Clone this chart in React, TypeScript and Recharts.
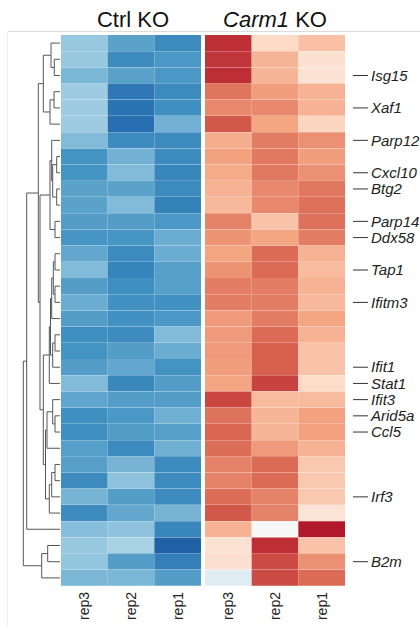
import React from "react";
import { BarChart, Bar, Cell, XAxis, YAxis, ComposedChart, Line } from "recharts";

const groups = ["Ctrl KO", "Carm1 KO"];
const samples = ["rep3", "rep2", "rep1", "rep3", "rep2", "rep1"];

const genes = [
  "", "", "Isg15", "", "Xaf1", "", "Parp12", "", "Cxcl10", "Btg2",
  "", "Parp14", "Ddx58", "", "Tap1", "", "Ifitm3", "", "", "",
  "Ifit1", "Stat1", "Ifit3", "Arid5a", "Ccl5", "", "", "", "Irf3", "",
  "", "", "B2m", "",
];

// row z-scores, one array per sample column
const ctrlRep3 = [-0.95, -0.95, -1.15, -0.9, -0.9, -0.9, -1.1, -1.5, -1.5, -1.35, -1.35, -1.4, -1.48, -1.3, -1.1, -1.4, -1.25, -1.4, -1.55, -1.5, -1.4, -1.1, -1.32, -1.55, -1.55, -1.38, -1.38, -1.6, -1.18, -1.6, -1.08, -0.95, -1.0, -1.15];
const ctrlRep2 = [-1.35, -1.6, -1.35, -1.8, -1.85, -1.9, -1.6, -1.2, -1.1, -1.35, -1.1, -1.4, -1.48, -1.6, -1.68, -1.55, -1.52, -1.52, -1.58, -1.4, -1.3, -1.62, -1.4, -1.45, -1.4, -1.6, -1.18, -1.02, -1.4, -1.3, -1.02, -0.82, -1.4, -1.15];
const ctrlRep1 = [-1.6, -1.45, -1.45, -1.6, -1.55, -1.2, -1.6, -1.6, -1.65, -1.6, -1.7, -1.45, -1.25, -1.25, -1.38, -1.38, -1.52, -1.45, -1.1, -1.25, -1.5, -1.4, -1.4, -1.22, -1.38, -1.22, -1.6, -1.6, -1.6, -1.18, -1.65, -2.05, -1.72, -1.4];
const carmRep3 = [1.85, 1.8, 1.85, 1.35, 1.2, 1.55, 0.92, 1.02, 0.95, 0.88, 0.82, 1.25, 1.12, 1.0, 1.12, 1.28, 1.28, 1.08, 1.08, 1.08, 1.05, 1.0, 1.68, 1.36, 1.45, 1.4, 1.25, 1.25, 1.4, 1.55, 0.88, 0.38, 0.43, -0.3];
const carmRep2 = [0.5, 0.85, 0.85, 1.05, 1.2, 1.0, 1.3, 1.32, 1.32, 1.2, 1.2, 0.72, 1.0, 1.42, 1.42, 1.28, 1.3, 1.3, 1.42, 1.5, 1.5, 1.7, 0.8, 0.85, 0.85, 1.08, 1.42, 1.42, 1.25, 1.25, 0.0, 1.85, 1.65, 1.65];
const carmRep1 = [0.75, 0.4, 0.38, 0.88, 0.88, 0.55, 1.15, 1.05, 1.15, 1.33, 1.38, 1.38, 1.28, 0.88, 0.8, 0.88, 0.82, 1.0, 0.88, 0.72, 0.72, 0.48, 0.8, 1.02, 1.02, 0.88, 0.68, 0.68, 0.68, 0.35, 2.0, 0.72, 1.15, 1.42];

const columns = [ctrlRep3, ctrlRep2, ctrlRep1, carmRep3, carmRep2, carmRep1];

// hierarchical clustering of rows: [child, child, height]; rN = row, mN = earlier merge
const merges: [string, string, number][] = [
  ["r1", "r2", 5.7], ["r0", "m0", 9], ["r3", "r4", 6], ["m2", "r5", 10], ["m1", "m3", 16.7],
  ["r7", "r8", 3.3], ["r9", "r10", 3.3], ["m5", "m6", 7.3], ["r6", "m7", 8.3], ["r11", "r12", 5], ["m8", "m9", 10],
  ["r13", "r14", 5], ["r15", "r16", 5], ["m11", "m12", 6.7], ["m13", "r17", 8.3], ["r18", "r19", 5], ["m15", "r20", 7.3], ["m14", "m16", 9.5], ["m17", "r21", 10.7],
  ["r23", "r24", 5], ["r22", "m19", 7.3], ["m20", "r25", 13],
  ["r26", "r27", 5], ["m22", "r28", 8.3], ["m23", "r29", 10.7],
  ["m21", "m24", 14.5], ["m18", "m25", 16.7], ["m10", "m26", 20], ["m4", "m27", 21.7], ["m28", "r30", 33.3],
  ["r31", "r32", 12.3], ["m30", "r33", 18.3], ["m29", "m31", 36.7],
];

const rdbu = ["#053061", "#2166ac", "#4393c3", "#92c5de", "#d1e5f0", "#f7f7f7", "#fddbc7", "#f4a582", "#d6604d", "#b2182b", "#67001f"];

const hex = (c: string) => [1, 3, 5].map((i) => parseInt(c.slice(i, i + 2), 16));
const colorFor = (v: number) => {
  const t = Math.max(0, Math.min(10, (v + 2.5) / 0.5));
  const i = Math.min(9, Math.floor(t));
  const f = t - i;
  const a = hex(rdbu[i]);
  const b = hex(rdbu[i + 1]);
  const rgb = a.map((x, k) => Math.round(x + (b[k] - x) * f));
  return `rgb(${rgb.join(",")})`;
};

const GAP = 4 / 46.67;
const cols = ["c0", "c1", "c2", "gap", "c3", "c4", "c5"];
const tableData = genes.map((g, i) => ({ id: i, c0: 1, c1: 1, c2: 1, gap: GAP, c3: 1, c4: 1, c5: 1 }));
const sampleTicks = [0.5, 1.5, 2.5, 3.5 + GAP, 4.5 + GAP, 5.5 + GAP];

const pos: Record<string, { y: number; h: number }> = {};
genes.forEach((_, i) => (pos["r" + i] = { y: i, h: 0 }));
const dendroLines = merges.map(([a, b, h], k) => {
  const A = pos[a];
  const B = pos[b];
  pos["m" + k] = { y: (A.y + B.y) / 2, h };
  return [
    { x: A.h, y: A.y },
    { x: h, y: A.y },
    { x: h, y: B.y },
    { x: B.h, y: B.y },
  ];
});

const font = "'Liberation Sans', Arial, sans-serif";

const GeneTick = (props: any) => {
  const { x, y, payload } = props;
  const label = genes[payload.value];
  if (!label) return <g />;
  return (
    <g>
      <line x1={x + 8} x2={x + 23} y1={y} y2={y} stroke="#333" strokeWidth={1} />
      <text x={x + 26} y={y} dy="0.35em" fontStyle="italic" fontSize={15} fill="#222" fontFamily={font}>
        {label}
      </text>
    </g>
  );
};

const SampleTick = (props: any) => {
  const { x, y, index } = props;
  const ty = y + 6;
  return (
    <text x={x} y={ty} transform={`rotate(-90 ${x} ${ty})`} textAnchor="end" dy="0.35em" fontSize={14} fill="#222" fontFamily={font}>
      {samples[index]}
    </text>
  );
};

export default function App() {
  return (
    <div style={{ position: "absolute", left: 0, top: 0, width: 420, height: 627, background: "#fff", fontFamily: font }}>
      <svg width={420} height={627} style={{ position: "absolute", left: 0, top: 0 }}>
        <line x1={8} x2={420} y1={31.5} y2={31.5} stroke="#dcdcdc" />
        <line x1={7.5} x2={7.5} y1={31} y2={627} stroke="#efefef" />
        <text x={133} y={27} textAnchor="middle" fontSize={22} fill="#111" fontFamily={font}>
          {groups[0]}
        </text>
        <text x={275} y={27} textAnchor="middle" fontSize={22} fill="#111" fontFamily={font}>
          <tspan fontStyle="italic">Carm1</tspan> KO
        </text>
      </svg>
      <div style={{ position: "absolute", left: 0, top: 0 }}>
        <BarChart
          width={420}
          height={627}
          data={tableData}
          layout="vertical"
          barCategoryGap={0}
          barGap={0}
          margin={{ top: 35, left: 61, right: 5, bottom: 0 }}
        >
          <XAxis
            type="number"
            domain={[0, 6 + GAP]}
            ticks={sampleTicks}
            interval={0}
            height={41}
            axisLine={false}
            tickLine={false}
            tickSize={0}
            tickMargin={0}
            tick={<SampleTick />}
            allowDataOverflow
          />
          <YAxis
            type="category"
            dataKey="id"
            orientation="right"
            width={70}
            interval={0}
            axisLine={false}
            tickLine={false}
            tickSize={0}
            tickMargin={0}
            tick={<GeneTick />}
          />
          {cols.map((c) => {
            const ci = cols.indexOf(c) > 3 ? cols.indexOf(c) - 1 : cols.indexOf(c);
            return (
              <Bar key={c} dataKey={c} stackId="a" isAnimationActive={false} fill="transparent">
                {tableData.map((d, i) => (
                  <Cell key={i} fill={c === "gap" ? "rgba(0,0,0,0)" : colorFor(columns[ci][i])} />
                ))}
              </Bar>
            );
          })}
        </BarChart>
      </div>
      <div style={{ position: "absolute", left: 0, top: 0 }}>
        <ComposedChart width={420} height={627} margin={{ top: 35, left: 8, right: 360, bottom: 41 }}>
          <XAxis type="number" dataKey="x" domain={[0, 52]} reversed hide allowDataOverflow />
          <YAxis type="number" dataKey="y" domain={[-0.5, 33.5]} reversed hide allowDataOverflow />
          {dendroLines.map((pts, k) => (
            <Line
              key={k}
              data={pts}
              dataKey="y"
              type="linear"
              stroke="#555"
              strokeWidth={1}
              dot={false}
              activeDot={false}
              isAnimationActive={false}
            />
          ))}
        </ComposedChart>
      </div>
    </div>
  );
}
